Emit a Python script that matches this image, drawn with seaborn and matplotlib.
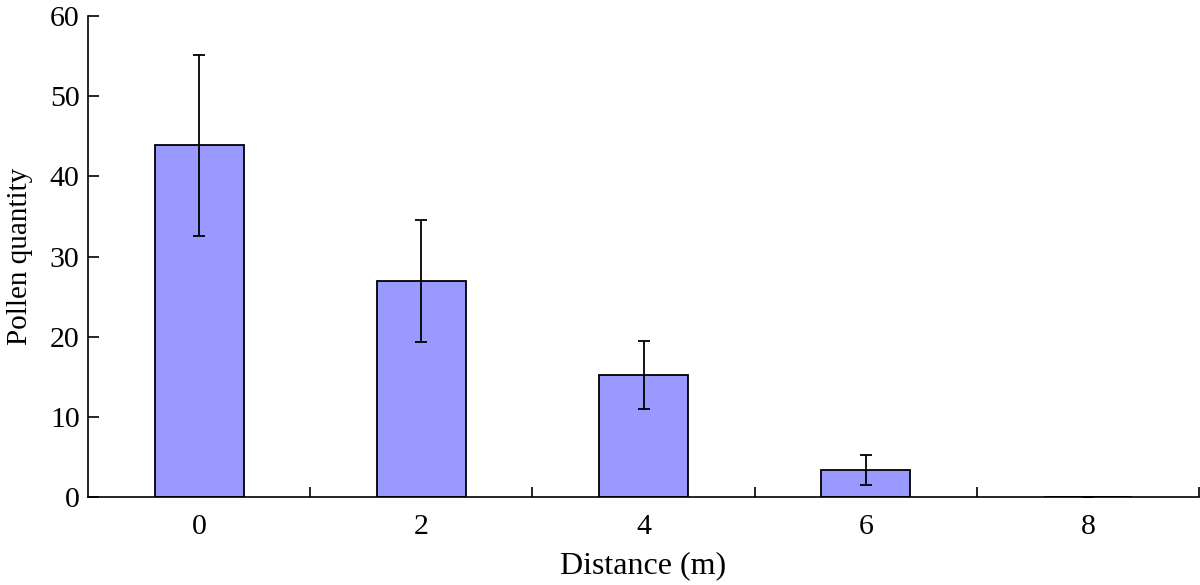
import numpy as np
import pandas as pd
import matplotlib
matplotlib.use("Agg")
import matplotlib.pyplot as plt
import seaborn as sns

# data
distance = ["0", "2", "4", "6", "8"]
pollen = [43.9, 26.9, 15.2, 3.35, 0.0]
pollen_err = [11.3, 7.6, 4.25, 1.9, 0.0]

df = pd.DataFrame({"Distance": distance, "Pollen": pollen})

sns.set_style("ticks")
plt.rcParams["font.family"] = ["Liberation Serif", "DejaVu Serif"]
plt.rcParams["text.color"] = "black"
plt.rcParams["axes.labelcolor"] = "black"
plt.rcParams["xtick.color"] = "black"
plt.rcParams["ytick.color"] = "black"
plt.rcParams["axes.edgecolor"] = "black"

fig = plt.figure(figsize=(12, 5.85), dpi=100)
ax = fig.add_axes([0.0733, 0.1504, 0.926, 0.8222])

sns.barplot(data=df, x="Distance", y="Pollen", color="#9999ff", saturation=1,
            width=0.4, edgecolor="black", linewidth=1.3, errorbar=None, ax=ax)
ax.errorbar(np.arange(len(distance)), pollen, yerr=pollen_err, fmt="none",
            ecolor="black", elinewidth=1.3, capsize=4.5, capthick=1.3)

ax.set_xlim(-0.5, 4.5)
ax.set_ylim(0, 60)
ax.set_yticks(range(0, 61, 10))
ax.set_xticks(np.arange(0.5, 5, 1), minor=True)
ax.tick_params(axis="x", which="major", length=0, pad=12, labelsize=21.5)
ax.tick_params(axis="x", which="minor", direction="in", length=7, width=1.2)
ax.tick_params(axis="y", direction="in", length=8, width=1.2, labelsize=21.5, pad=6)
for s in ["left", "bottom"]:
    ax.spines[s].set_linewidth(1.2)
sns.despine(ax=ax)

ax.set_xlabel("Distance (m)", fontsize=23, labelpad=8)
ax.set_ylabel("Pollen quantity", fontsize=21, labelpad=12)

fig.savefig("out.png", dpi=100)
